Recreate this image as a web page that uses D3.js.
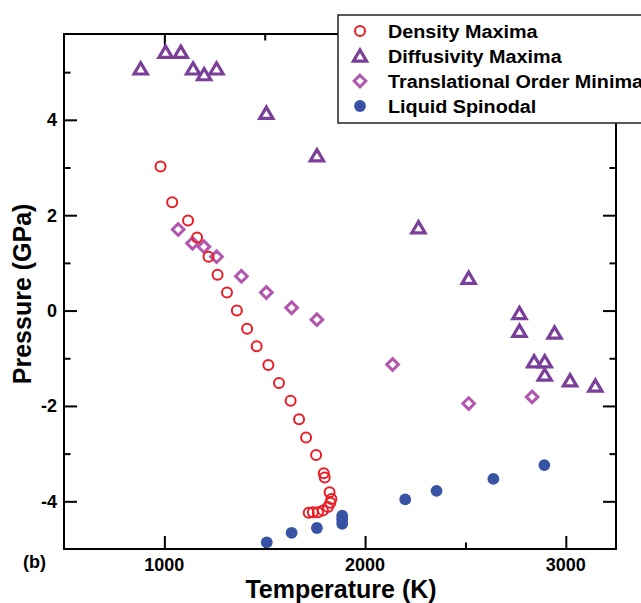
<!DOCTYPE html>
<html>
<head>
<meta charset="utf-8">
<script src="https://cdn.jsdelivr.net/npm/d3@7"></script>
<style>
  body { margin: 0; background: #fff; }
  text { font-family: "Liberation Sans", Arial, Helvetica, sans-serif; font-weight: bold; }
</style>
</head>
<body>
<div id="chart"></div>
<script>
// [temperature K, pressure GPa]
const densityMaxima = [
    [981, 3.02], [1039, 2.27], [1118, 1.89], [1163, 1.53], [1220, 1.13],
    [1265, 0.75], [1312, 0.38], [1361, 0.0], [1412, -0.38], [1460, -0.75],
    [1518, -1.14], [1571, -1.52], [1629, -1.89], [1671, -2.28], [1706, -2.66],
    [1756, -3.03], [1794, -3.41], [1799, -3.50], [1823, -3.81], [1832, -3.95],
    [1827, -4.03], [1815, -4.12], [1790, -4.19], [1765, -4.23], [1740, -4.23],
    [1719, -4.24]
];
const diffusivityMaxima = [
    [882, 5.07], [1006, 5.42], [1082, 5.42], [1143, 5.07], [1198, 4.95],
    [1260, 5.07], [1508, 4.14], [1760, 3.25], [2266, 1.74], [2516, 0.68],
    [2769, -0.06], [2769, -0.43], [2944, -0.47], [2842, -1.07], [2895, -1.07],
    [2895, -1.35], [3021, -1.47], [3147, -1.58]
];
const orderMinima = [
    [1069, 1.70], [1140, 1.41], [1197, 1.34], [1260, 1.13], [1384, 0.72],
    [1508, 0.38], [1634, 0.06], [1760, -0.19], [2137, -1.13], [2516, -1.95],
    [2832, -1.81]
];
const liquidSpinodal = [
    [1510, -4.86], [1634, -4.66], [1760, -4.56], [1886, -4.30], [1886, -4.38],
    [1886, -4.47], [2200, -3.96], [2356, -3.78], [2639, -3.53], [2893, -3.24]
];
const legendLabels = ["Density Maxima", "Diffusivity Maxima", "Translational Order Minima", "Liquid Spinodal"];
const xMajorTicks = [1000, 2000, 3000];
const xMinorTicks = [1500, 2500];
const yMajorTicks = [-4, -2, 0, 2, 4];
const yMinorTicks = [-3, -1, 1, 3, 5];

const width = 641, height = 603;
const margin = { top: 34, right: 25, bottom: 54, left: 64 };

const svg = d3.select("#chart").append("svg")
    .attr("width", width)
    .attr("height", height);

const x = d3.scaleLinear().domain([500, 3250]).range([margin.left, width - margin.right]);
const y = d3.scaleLinear().domain([-5, 5.8]).range([height - margin.bottom, margin.top]);

const colors = { red: "#ec1c24", purple: "#7a3f98", pink: "#b356ae", blue: "#3953a4" };

// symbol shapes (box-centred like the original plot program)
const triPath = "M0,-6L6.6,5.2L-6.6,5.2Z";
const diaPath = "M0,-5.8L5.8,0L0,5.8L-5.8,0Z";

// axes: ticks point inward on all four sides
function axisTicks(axisGen, tr, vals, size) {
    svg.append("g")
        .attr("transform", tr)
        .call(axisGen.tickValues(vals).tickSize(size).tickFormat(""))
        .call(g => g.select(".domain").remove())
        .call(g => g.selectAll("line").attr("stroke", "#000").attr("stroke-width", 2));
}
const bottomY = height - margin.bottom, topY = margin.top;
const leftX = margin.left, rightX = width - margin.right;
axisTicks(d3.axisTop(x), `translate(0,${bottomY})`, xMajorTicks, 13);
axisTicks(d3.axisTop(x), `translate(0,${bottomY})`, xMinorTicks, 6.5);
axisTicks(d3.axisBottom(x), `translate(0,${topY})`, xMajorTicks, 13);
axisTicks(d3.axisBottom(x), `translate(0,${topY})`, xMinorTicks, 6.5);
axisTicks(d3.axisRight(y), `translate(${leftX},0)`, yMajorTicks, 13);
axisTicks(d3.axisRight(y), `translate(${leftX},0)`, yMinorTicks, 6.5);
axisTicks(d3.axisLeft(y), `translate(${rightX},0)`, yMajorTicks, 13);
axisTicks(d3.axisLeft(y), `translate(${rightX},0)`, yMinorTicks, 6.5);

svg.append("rect")
    .attr("x", leftX).attr("y", topY)
    .attr("width", rightX - leftX).attr("height", bottomY - topY)
    .attr("fill", "none").attr("stroke", "#000").attr("stroke-width", 2);

// tick labels
svg.selectAll("text.xlab")
    .data(xMajorTicks)
    .enter().append("text")
    .attr("class", "xlab")
    .attr("x", d => x(d)).attr("y", 571)
    .attr("text-anchor", "middle")
    .attr("font-size", "18px")
    .text(d => d);

svg.selectAll("text.ylab")
    .data(yMajorTicks)
    .enter().append("text")
    .attr("class", "ylab")
    .attr("x", 57).attr("y", d => y(d))
    .attr("dy", "0.36em")
    .attr("text-anchor", "end")
    .attr("font-size", "18px")
    .text(d => d);

svg.append("text")
    .attr("x", 341).attr("y", 598)
    .attr("text-anchor", "middle")
    .attr("font-size", "25px")
    .text("Temperature (K)");

svg.append("text")
    .attr("transform", `translate(31,${y(0.35)}) rotate(-90)`)
    .attr("text-anchor", "middle")
    .attr("font-size", "25px")
    .text("Pressure (GPa)");

svg.append("text")
    .attr("x", 23).attr("y", 568)
    .attr("font-size", "18px")
    .text("(b)");

// data
const tr = d => `translate(${x(d[0])},${y(d[1])})`;

svg.append("g").selectAll("path")
    .data(orderMinima)
    .enter().append("path")
    .attr("transform", tr)
    .attr("d", diaPath)
    .attr("fill", "none").attr("stroke", colors.pink).attr("stroke-width", 3);

svg.append("g").selectAll("path")
    .data(diffusivityMaxima)
    .enter().append("path")
    .attr("transform", tr)
    .attr("d", triPath)
    .attr("fill", "none").attr("stroke", colors.purple).attr("stroke-width", 3.2);

svg.append("g").selectAll("circle")
    .data(densityMaxima)
    .enter().append("circle")
    .attr("cx", d => x(d[0])).attr("cy", d => y(d[1]))
    .attr("r", 5)
    .attr("fill", "none").attr("stroke", colors.red).attr("stroke-width", 2);

svg.append("g").selectAll("circle")
    .data(liquidSpinodal)
    .enter().append("circle")
    .attr("cx", d => x(d[0])).attr("cy", d => y(d[1]))
    .attr("r", 5.9)
    .attr("fill", colors.blue);

// legend
const legend = svg.append("g");
legend.append("rect")
    .attr("x", 338).attr("y", 15)
    .attr("width", 400).attr("height", 108)
    .attr("fill", "#fff").attr("stroke", "#222").attr("stroke-width", 1.5);

const rows = legend.selectAll("g.row")
    .data(legendLabels)
    .enter().append("g")
    .attr("class", "row")
    .attr("transform", (d, i) => `translate(360,${31 + i * 25})`);

rows.append("text")
    .attr("transform", "translate(28,6.5) scale(1.07,1)")
    .attr("font-size", "18.5px")
    .text(d => d);

rows.filter((d, i) => i === 0).append("circle")
    .attr("r", 5).attr("fill", "none").attr("stroke", colors.red).attr("stroke-width", 2);
rows.filter((d, i) => i === 1).append("path")
    .attr("d", triPath).attr("fill", "none").attr("stroke", colors.purple).attr("stroke-width", 3.2);
rows.filter((d, i) => i === 2).append("path")
    .attr("d", diaPath).attr("fill", "none").attr("stroke", colors.pink).attr("stroke-width", 3);
rows.filter((d, i) => i === 3).append("circle")
    .attr("r", 5.9).attr("fill", colors.blue);
</script>
</body>
</html>
